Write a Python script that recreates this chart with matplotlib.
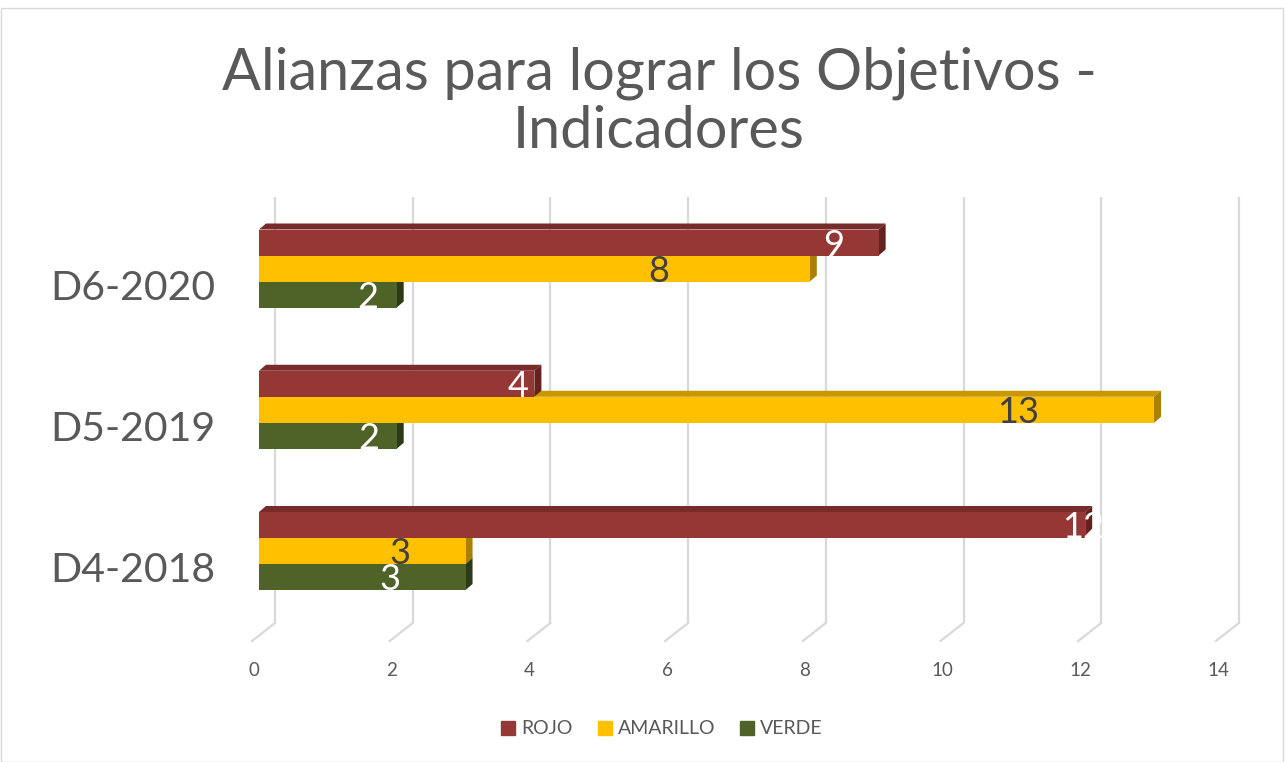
import numpy as np
import matplotlib.pyplot as plt
from matplotlib.patches import Polygon, Patch, Rectangle
from matplotlib.transforms import ScaledTranslation, IdentityTransform

# datos del grafico
categorias = ["D4-2018", "D5-2019", "D6-2020"]
series = ["ROJO", "AMARILLO", "VERDE"]
rojo = [12, 4, 9]
amarillo = [3, 13, 8]
verde = [3, 2, 2]
ticks_x = [0, 2, 4, 6, 8, 10, 12, 14]

# donde cae el numero de cada barra (unidades del eje x)
pos_rojo = [11.97, 3.76, 8.34]
pos_amarillo = [2.05, 11.02, 5.80]
pos_verde = [1.90, 1.60, 1.58]

# colores: frente, arriba, costado, texto
col_rojo = ("#953735", "#772B2A", "#66211F", "white")
col_amarillo = ("#FFC000", "#C99700", "#A98000", "#404040")
col_verde = ("#4F6228", "#3D4C1F", "#2E3A17", "white")

gris = "#595959"
W, H = 1285, 762
x0_px, escala = 259, 68.85      # pixel del 0 y pixeles por unidad
g0_px, paso = 551, 141.25       # pixel del grupo D4 y separacion entre grupos
alto = 26 / paso                # alto de cada barra
prof = (7, 6)                   # profundidad 3D de las barras (px)

fig = plt.figure(figsize=(W / 100, H / 100), dpi=100)
ax = fig.add_axes([0, 0, 1, 1])
ax.set_xlim(-x0_px / escala, (W - x0_px) / escala)
ax.set_ylim((g0_px - H) / paso, g0_px / paso)
ax.axis("off")


def fila(px):
    # fila de la imagen (px desde arriba) -> y en unidades de grupo
    return (g0_px - px) / paso


def desplazar(dx, dy):
    return ax.transData + ScaledTranslation(dx / 100, -dy / 100, fig.dpi_scale_trans)


def pantalla(x, y, dx=0, dy=0):
    p = ax.transData.transform((x, y))
    return (p[0] + dx, p[1] - dy)


# lineas de division (pared del fondo + piso)
for v in ticks_x:
    ax.plot([v, v], [fila(197), fila(623)], color="#D9D9D9", lw=1.6,
            transform=desplazar(16, 0), zorder=1, solid_capstyle="butt")
    a = pantalla(v, fila(623), 16, 0)
    b = pantalla(v, fila(641), -7, 0)
    ax.plot([a[0], b[0]], [a[1], b[1]], color="#D9D9D9", lw=1.6,
            transform=IdentityTransform(), zorder=1)
    ax.text(v, fila(670), str(v), transform=desplazar(-5, 0), ha="center",
            va="center", fontsize=13.5, color=gris, family="Lato")

# barras 3D, de abajo hacia arriba en cada grupo
z = 2
grupos = [(verde, pos_verde, col_verde, -1),
          (amarillo, pos_amarillo, col_amarillo, 0),
          (rojo, pos_rojo, col_rojo, 1)]
for i, cat in enumerate(categorias):
    for valores, posiciones, col, k in grupos:
        v = valores[i]
        yc = i + k * alto
        ytop, ybot = yc + alto / 2, yc - alto / 2
        p0 = pantalla(0, ytop)
        p1 = pantalla(v, ytop)
        p2 = pantalla(v, ybot)
        dx, dy = prof
        arriba = Polygon([p0, p1, (p1[0] + dx, p1[1] + dy), (p0[0] + dx, p0[1] + dy)],
                         closed=True, facecolor=col[1], edgecolor="none",
                         transform=IdentityTransform(), zorder=z)
        costado = Polygon([p2, p1, (p1[0] + dx, p1[1] + dy), (p2[0] + dx, p2[1] + dy)],
                          closed=True, facecolor=col[2], edgecolor="none",
                          transform=IdentityTransform(), zorder=z)
        ax.add_patch(arriba)
        ax.add_patch(costado)
        ax.barh(yc, v, height=alto, left=0, color=col[0], zorder=z + 0.5)
        ax.text(posiciones[i], yc, str(v), ha="center", va="center_baseline",
                fontsize=26, color=col[3], family="Lato", zorder=z + 0.8)
        z += 1
    ax.text((215 - x0_px) / escala, i - 20 / paso, cat,
            ha="right", va="center", fontsize=29.5, color=gris, family="Lato")

# titulo
fig.text(659 / W, 1 - 90 / H, "Alianzas para lograr los Objetivos -",
         ha="center", va="baseline", fontsize=41.5, color=gris, family="Lato")
fig.text(659 / W, 1 - 148 / H, "Indicadores",
         ha="center", va="baseline", fontsize=41.5, color=gris, family="Lato")

# leyenda
handles = [Patch(color=col_rojo[0]), Patch(color=col_amarillo[0]),
           Patch(color=col_verde[0])]
leg = fig.legend(handles, series, loc="center", bbox_to_anchor=(662 / W, 1 - 729 / H),
                 ncol=3, frameon=False, handlelength=0.72, handleheight=0.72,
                 handletextpad=0.3, columnspacing=1.3,
                 prop={"family": "Lato", "size": 14})
for t in leg.get_texts():
    t.set_color(gris)

# borde del area del grafico
fig.patches.append(Rectangle((1 / W, 0), 1282 / W, 1 - 8 / H, transform=fig.transFigure,
                             fill=False, edgecolor="#D9D9D9", lw=1))

fig.savefig("out.png", dpi=100)
